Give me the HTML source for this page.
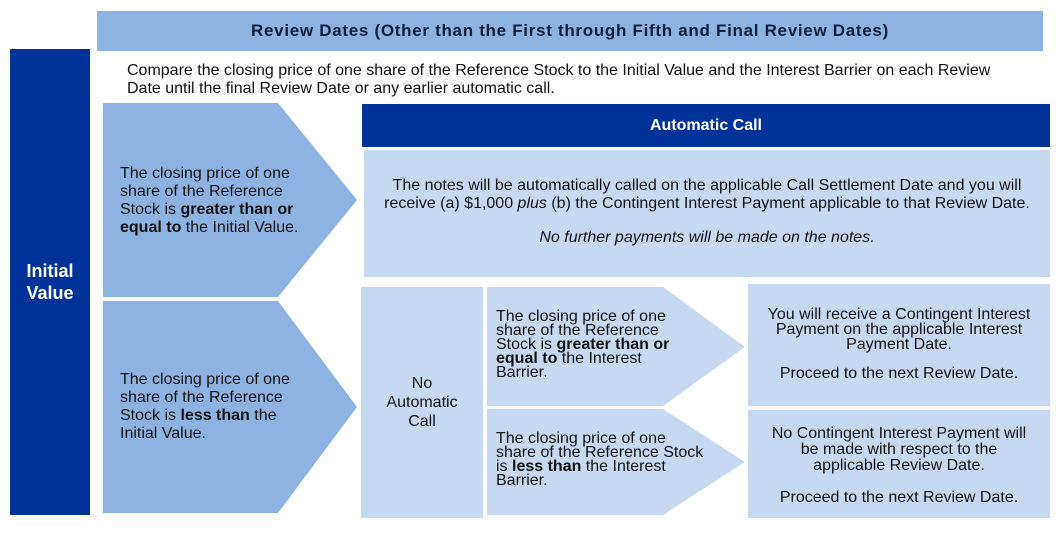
<!DOCTYPE html>
<html><head><style>
body{margin:0;width:1062px;height:533px;background:#fff;position:relative;font-family:"Liberation Sans",Arial,sans-serif;overflow:hidden}
.a{position:absolute;box-sizing:border-box}
.t{position:absolute;font-size:16px;line-height:18px;color:#111}
.c{display:flex;align-items:center;justify-content:center;text-align:center}
</style></head><body>
<div class="a c" style="left:97px;top:11px;width:946px;height:40px;background:#8db3e2;font-weight:bold;font-size:17px;letter-spacing:0.7px;color:#0f1f3d">Review Dates (Other than the First through Fifth and Final Review Dates)</div>
<div class="a c" style="left:10px;top:49px;width:80px;height:466px;background:#003399;color:#fff;font-weight:bold;font-size:18px;line-height:22px">Initial<br>Value</div>
<div class="t" style="left:127px;top:62px;width:890px">Compare the closing price of one share of the Reference Stock to the Initial Value and the Interest Barrier on each Review Date until the final Review Date or any earlier automatic call.</div>
<svg class="a" style="left:0;top:0" width="1062" height="533">
<polygon points="103,103 278,103 357,200 278,297 103,297" fill="#8db3e2"/>
<polygon points="103,301 278,301 357,407 278,513 103,513" fill="#8db3e2"/>
<polygon points="487,287 663,287 745,347 663,406 487,406" fill="#c6d9f1"/>
<polygon points="487,409 663,409 745,462 663,515 487,515" fill="#c6d9f1"/>
</svg>
<div class="t" style="left:120px;top:165px;width:195px">The closing price of one share of the Reference Stock is <b>greater than or equal to</b> the Initial Value.</div>
<div class="t" style="left:120px;top:371px;width:185px">The closing price of one share of the Reference Stock is <b>less than</b> the Initial Value.</div>
<div class="a c" style="left:362px;top:104px;width:688px;height:43px;background:#003399;color:#fff;font-weight:bold;font-size:16px">Automatic Call</div>
<div class="a" style="left:364px;top:150px;width:686px;height:127px;background:#c6d9f1;text-align:center;font-size:16px;line-height:18px;color:#111;padding-top:27px">The notes will be automatically called on the applicable Call Settlement Date and you will<br>receive (a) $1,000 <i>plus</i> (b) the Contingent Interest Payment applicable to that Review Date.<div style="margin-top:16px;font-style:italic">No further payments will be made on the notes.</div></div>
<div class="a c" style="left:361px;top:287px;width:122px;height:231px;background:#c6d9f1;font-size:16px;line-height:19px;color:#111">No<br>Automatic<br>Call</div>
<div class="t" style="left:496px;top:310px;width:185px;line-height:14px">The closing price of one share of the Reference Stock is <b>greater than or equal to</b> the Interest Barrier.</div>
<div class="t" style="left:496px;top:432px;width:208px;line-height:14px">The closing price of one share of the Reference Stock is <b>less than</b> the Interest Barrier.</div>
<div class="a" style="left:748px;top:284px;width:302px;height:122px;background:#c6d9f1;text-align:center;font-size:16px;line-height:15px;color:#111;padding-top:23px">You will receive a Contingent Interest<br>Payment on the applicable Interest<br>Payment Date.<div style="margin-top:14px">Proceed to the next Review Date.</div></div>
<div class="a" style="left:748px;top:410px;width:302px;height:108px;background:#c6d9f1;text-align:center;font-size:16px;line-height:16px;color:#111;padding-top:16px">No Contingent Interest Payment will<br>be made with respect to the<br>applicable Review Date.<div style="margin-top:16px">Proceed to the next Review Date.</div></div>
</body></html>
